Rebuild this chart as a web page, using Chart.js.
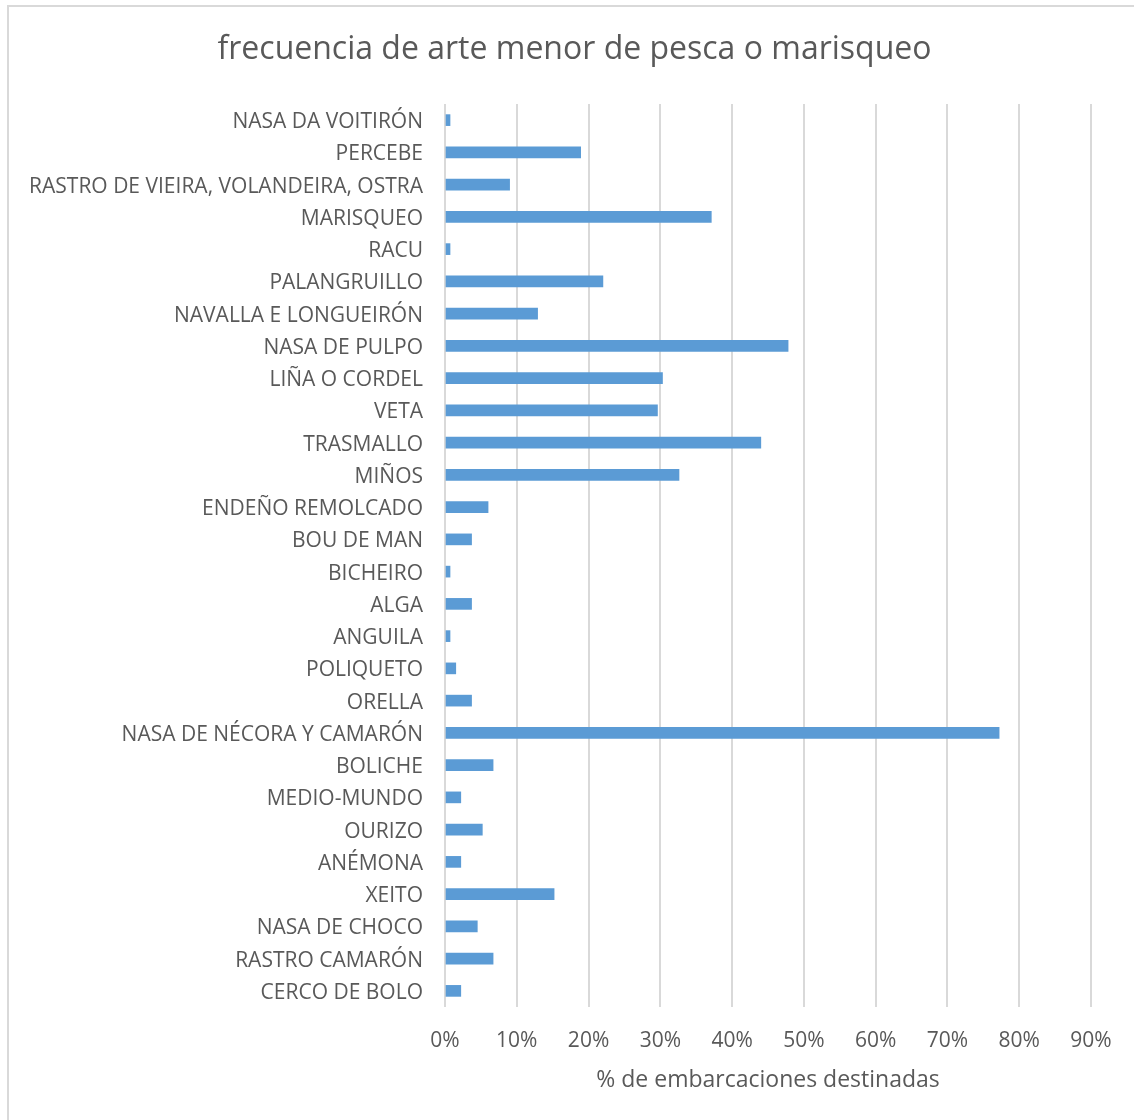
<!DOCTYPE html>
<html>
<head>
<meta charset="utf-8">
<script src="https://cdn.jsdelivr.net/npm/chart.js@4/dist/chart.umd.min.js"></script>
<style>
  html, body { margin: 0; padding: 0; background: #ffffff; }
  #wrap { position: relative; width: 1134px; height: 1120px; }
</style>
</head>
<body>
<div id="wrap"><canvas id="c" width="1134" height="1120"></canvas></div>
<script>
const chartTitle = 'frecuencia de arte menor de pesca o marisqueo';
const axisTitle = '% de embarcaciones destinadas';
const categories = [
  'NASA DA VOITIRÓN', 'PERCEBE', 'RASTRO DE VIEIRA, VOLANDEIRA, OSTRA', 'MARISQUEO', 'RACU',
  'PALANGRUILLO', 'NAVALLA E LONGUEIRÓN', 'NASA DE PULPO', 'LIÑA O CORDEL', 'VETA',
  'TRASMALLO', 'MIÑOS', 'ENDEÑO REMOLCADO', 'BOU DE MAN', 'BICHEIRO', 'ALGA', 'ANGUILA',
  'POLIQUETO', 'ORELLA', 'NASA DE NÉCORA Y CAMARÓN', 'BOLICHE', 'MEDIO-MUNDO', 'OURIZO',
  'ANÉMONA', 'XEITO', 'NASA DE CHOCO', 'RASTRO CAMARÓN', 'CERCO DE BOLO'
];
const values = [
  0.7, 18.9, 9.0, 37.1, 0.7,
  22.0, 12.9, 47.8, 30.3, 29.6,
  44.0, 32.6, 6.0, 3.7, 0.7, 3.7, 0.7,
  1.5, 3.7, 77.2, 6.7, 2.2, 5.2,
  2.2, 15.2, 4.5, 6.7, 2.2
];
const xMin = 0, xMax = 90, xStep = 10;

const FONT = "'Open Sans', 'Noto Sans', sans-serif";
const TXT = '#595959';

const frame = {
  id: 'frame',
  beforeDraw(chart) {
    const ctx = chart.ctx;
    ctx.save();
    ctx.fillStyle = '#ffffff';
    ctx.fillRect(0, 0, chart.width, chart.height);
    ctx.strokeStyle = '#d9d9d9';
    ctx.lineWidth = 2;
    ctx.strokeRect(8, 6, 1140, 1200);
    ctx.restore();
  }
};

new Chart(document.getElementById('c'), {
  type: 'bar',
  data: {
    labels: categories,
    datasets: [{
      data: values,
      backgroundColor: '#5b9bd5',
      borderWidth: 0,
      barThickness: 11
    }]
  },
  plugins: [frame],
  options: {
    indexAxis: 'y',
    responsive: false,
    animation: false,
    layout: { padding: { left: 15, right: 0, top: 0, bottom: 0 } },
    plugins: {
      legend: { display: false },
      tooltip: { enabled: false },
      title: {
        display: true,
        text: chartTitle,
        color: TXT,
        font: { family: FONT, size: 32, weight: 'normal', lineHeight: 1.2 },
        padding: { top: 31, bottom: 34.6 }
      }
    },
    scales: {
      x: {
        min: xMin, max: xMax,
        ticks: {
          stepSize: xStep,
          color: TXT,
          font: { family: FONT, size: 21 },
          padding: 21,
          callback: v => v + '%'
        },
        grid: { color: '#d9d9d9', lineWidth: 2, drawTicks: false },
        border: { display: false },
        title: {
          display: true,
          text: axisTitle,
          color: TXT,
          font: { family: FONT, size: 23 },
          padding: { top: 0, bottom: 26 }
        },
        afterFit(scale) { scale.height = 113; }
      },
      y: {
        ticks: {
          color: TXT,
          font: { family: FONT, size: 21 },
          padding: 22,
          labelOffset: 2,
          autoSkip: false
        },
        grid: { display: false, drawTicks: false },
        border: { display: false },
        afterFit(scale) { scale.width = 430; }
      },
      yRight: {
        type: 'category',
        position: 'right',
        display: true,
        ticks: { display: false },
        grid: { display: false, drawTicks: false },
        border: { display: false },
        afterFit(scale) { scale.width = 43; }
      }
    }
  }
});
</script>
</body>
</html>
